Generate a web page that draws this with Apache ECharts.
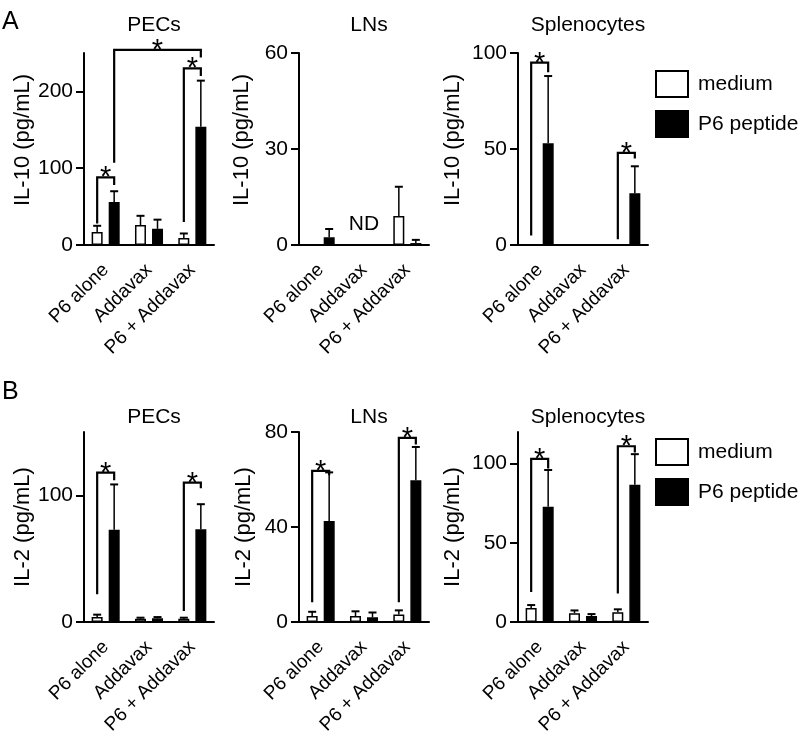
<!DOCTYPE html>
<html>
<head>
<meta charset="utf-8">
<script src="https://cdn.jsdelivr.net/npm/echarts@6/dist/echarts.min.js"></script>
<style>
  html, body { margin: 0; padding: 0; background: #fff; }
  #chart { width: 800px; height: 743px; }
</style>
</head>
<body>
<div id="chart"></div>
<script>
// categories
var categories = ["P6 alone", "Addavax", "P6 + Addavax"];
var panelTitles = ["PECs", "LNs", "Splenocytes"];
var seriesNames = ["medium", "P6 peptide"];

// A: IL-10 (mean / error)
var pecA_medium = [17, 26, 9];
var pecA_mediumErr = [8, 12, 6];
var pecA_peptide = [56, 21, 154];
var pecA_peptideErr = [14, 12, 60];

var lnA_medium = [null, null, 9.1];
var lnA_mediumErr = [null, null, 9.1];
var lnA_peptide = [2.4, null, 0.6];
var lnA_peptideErr = [2.6, null, 1];

var splA_medium = [null, null, null];
var splA_mediumErr = [null, null, null];
var splA_peptide = [53, null, 27];
var splA_peptideErr = [35, null, 14];

// B: IL-2 (mean / error)
var pecB_medium = [3.9, 2.6, 2.6];
var pecB_mediumErr = [1.9, 0.8, 0.8];
var pecB_peptide = [72.8, 2.9, 73.3];
var pecB_peptideErr = [35.8, 1.0, 19.7];

var lnB_medium = [2.5, 2.5, 3.2];
var lnB_mediumErr = [1.8, 2, 1.7];
var lnB_peptide = [42.5, 2, 59.7];
var lnB_peptideErr = [20.5, 2, 14];

var splB_medium = [8.9, 5.6, 6.1];
var splB_mediumErr = [1.8, 1.7, 1.9];
var splB_peptide = [72.8, 3.8, 86.7];
var splB_peptideErr = [23.2, 1.2, 19.3];

// y axes
var yMax = [250, 60, 100, 150, 80, 120];
var yTicks = [[0, 100, 200], [0, 30, 60], [0, 50, 100], [0, 100], [0, 40, 80], [0, 50, 100]];
var yNames = ["IL-10 (pg/mL)", "IL-10 (pg/mL)", "IL-10 (pg/mL)", "IL-2 (pg/mL)", "IL-2 (pg/mL)", "IL-2 (pg/mL)"];

// significance brackets: [catFrom, sideFrom, catTo, sideTo, yFrom, yTop, yTo]
var bracketsPecA = [[0, -1, 0, 1, 28, 88, 78], [0, 1, 2, 1, 107, 254, 244], [2, -1, 2, 1, 30, 230, 220]];
var bracketsLnA = [];
var bracketsSplA = [[0, -1, 0, 1, 5, 95, 90], [2, -1, 2, 1, 3, 48, 45]];
var bracketsPecB = [[0, -1, 0, 1, 22, 118, 112], [2, -1, 2, 1, 8.6, 110, 105.5]];
var bracketsLnB = [[0, -1, 0, 1, 8.3, 63.6, 61.8], [2, -1, 2, 1, 8.3, 77.5, 74.7]];
var bracketsSplB = [[0, -1, 0, 1, 19, 103, 97], [2, -1, 2, 1, 18, 111, 107]];

// "ND" note: [cat, y]
var ndLnA = [[1, 6.5]];

var panels = [
  [pecA_medium, pecA_mediumErr, pecA_peptide, pecA_peptideErr, bracketsPecA, []],
  [lnA_medium, lnA_mediumErr, lnA_peptide, lnA_peptideErr, bracketsLnA, ndLnA],
  [splA_medium, splA_mediumErr, splA_peptide, splA_peptideErr, bracketsSplA, []],
  [pecB_medium, pecB_mediumErr, pecB_peptide, pecB_peptideErr, bracketsPecB, []],
  [lnB_medium, lnB_mediumErr, lnB_peptide, lnB_peptideErr, bracketsLnB, []],
  [splB_medium, splB_mediumErr, splB_peptide, splB_peptideErr, bracketsSplB, []]
];

var FONT = '"Liberation Sans", Arial, sans-serif';
var FS = 21;
var BAR_W = 11;
var OFF = 8.5; // half distance between paired bar centres
var lefts = [84, 299, 518];
var tops = [53, 432];
var heights = [192, 190];
var nameGaps = [50, 46, 54, 50, 44, 54];

var chart = echarts.init(document.getElementById("chart"));

var grids = [], xAxes = [], yAxes = [], series = [], titles = [];

panels.forEach(function (p, i) {
  var row = Math.floor(i / 3), col = i % 3;
  grids.push({ left: lefts[col], top: tops[row], width: 130, height: heights[row] });
  titles.push({
    text: panelTitles[col], left: lefts[col] + 65, top: row === 0 ? 10 : 402,
    textAlign: "center",
    textStyle: { fontSize: FS, fontWeight: "normal", color: "#000", fontFamily: FONT }
  });
  xAxes.push({
    type: "category", gridIndex: i, data: categories,
    axisLine: { lineStyle: { color: "#000", width: 2 } },
    axisTick: { alignWithLabel: true, length: 7, lineStyle: { color: "#000", width: 2 } },
    axisLabel: { interval: 0, rotate: 45, fontSize: 19, color: "#000", margin: 22,
      padding: [26, 0, 0, 0], fontFamily: FONT }
  });
  yAxes.push({
    type: "value", gridIndex: i, min: 0, max: yMax[i],
    name: yNames[i], nameLocation: "middle", nameGap: nameGaps[i],
    nameTextStyle: { fontSize: 22, color: "#000", fontFamily: FONT,
      padding: row === 0 ? [0, 0, 0, 18] : 0 },
    splitLine: { show: false },
    axisLine: { show: true, lineStyle: { color: "#000", width: 2 } },
    axisTick: { show: true, length: 8, customValues: yTicks[i], lineStyle: { color: "#000", width: 2 } },
    axisLabel: { fontSize: FS, color: "#000", margin: 11, customValues: yTicks[i], fontFamily: FONT }
  });

  series.push({
    name: seriesNames[0], type: "bar", xAxisIndex: i, yAxisIndex: i,
    data: p[0], barWidth: BAR_W, barGap: "55%",
    itemStyle: { color: "#fff", borderColor: "#000", borderWidth: 1.5 }
  });
  series.push({
    name: seriesNames[1], type: "bar", xAxisIndex: i, yAxisIndex: i,
    data: p[2], barWidth: BAR_W, barGap: "55%",
    itemStyle: { color: "#000", borderColor: "#000", borderWidth: 1.5 }
  });

  // error bars (upper only)
  var errData = [];
  [[p[0], p[1], -1], [p[2], p[3], 1]].forEach(function (s) {
    s[0].forEach(function (v, k) {
      if (v != null && s[1][k] != null) errData.push([k, v, v + s[1][k], s[2]]);
    });
  });
  series.push({
    type: "custom", xAxisIndex: i, yAxisIndex: i, data: errData, clip: false, z: 3,
    renderItem: function (params, api) {
      var a = api.coord([api.value(0), api.value(1)]);
      var b = api.coord([api.value(0), api.value(2)]);
      var x = a[0] + api.value(3) * OFF;
      return {
        type: "group", children: [
          { type: "line", shape: { x1: x, y1: a[1], x2: x, y2: b[1] }, style: { stroke: "#000", lineWidth: 1.5 } },
          { type: "line", shape: { x1: x - 4, y1: b[1], x2: x + 4, y2: b[1] }, style: { stroke: "#000", lineWidth: 2 } }
        ]
      };
    }
  });

  // brackets with asterisks
  series.push({
    type: "custom", xAxisIndex: i, yAxisIndex: i, data: p[4], clip: false, z: 4,
    renderItem: function (params, api) {
      var x1 = api.coord([api.value(0), 0])[0] + api.value(1) * OFF;
      var x2 = api.coord([api.value(2), 0])[0] + api.value(3) * OFF;
      var yA = api.coord([api.value(0), api.value(4)])[1];
      var yT = api.coord([api.value(0), api.value(5)])[1];
      var yB = api.coord([api.value(2), api.value(6)])[1];
      return {
        type: "group", children: [
          { type: "polyline", shape: { points: [[x1, yA], [x1, yT], [x2, yT], [x2, yB]] },
            style: { stroke: "#000", lineWidth: 2.2, fill: null } },
          { type: "text", x: (x1 + x2) / 2, y: yT + 1,
            style: { text: "*", fontSize: 29, fontFamily: FONT, align: "center", verticalAlign: "middle", fill: "#000" } }
        ]
      };
    }
  });

  if (p[5].length) {
    series.push({
      type: "custom", xAxisIndex: i, yAxisIndex: i, data: p[5], clip: false,
      renderItem: function (params, api) {
        var c = api.coord([api.value(0), api.value(1)]);
        return { type: "text", x: c[0], y: c[1],
          style: { text: "ND", fontSize: FS, fontFamily: FONT, align: "center", verticalAlign: "middle", fill: "#000" } };
      }
    });
  }
});

var legendBase = {
  orient: "vertical", left: 655, padding: 0, itemWidth: 32, itemHeight: 26, itemGap: 12,
  selectedMode: false, icon: "rect", data: seriesNames,
  textStyle: { fontSize: FS, color: "#000", fontFamily: FONT, padding: [0, 0, 0, 5] }
};

var option = {
  backgroundColor: "#fff",
  animation: false,
  title: titles,
  grid: grids,
  xAxis: xAxes,
  yAxis: yAxes,
  legend: [
    Object.assign({}, legendBase, { top: 70 }),
    Object.assign({}, legendBase, { top: 438 })
  ],
  graphic: [
    { type: "text", left: 2, top: 10, style: { text: "A", fontSize: 25, fontFamily: FONT, fill: "#000" } },
    { type: "text", left: 2, top: 380, style: { text: "B", fontSize: 25, fontFamily: FONT, fill: "#000" } }
  ],
  series: series
};

chart.setOption(option);
window.addEventListener("resize", function () {
  chart.resize();
});
</script>
</body>
</html>
